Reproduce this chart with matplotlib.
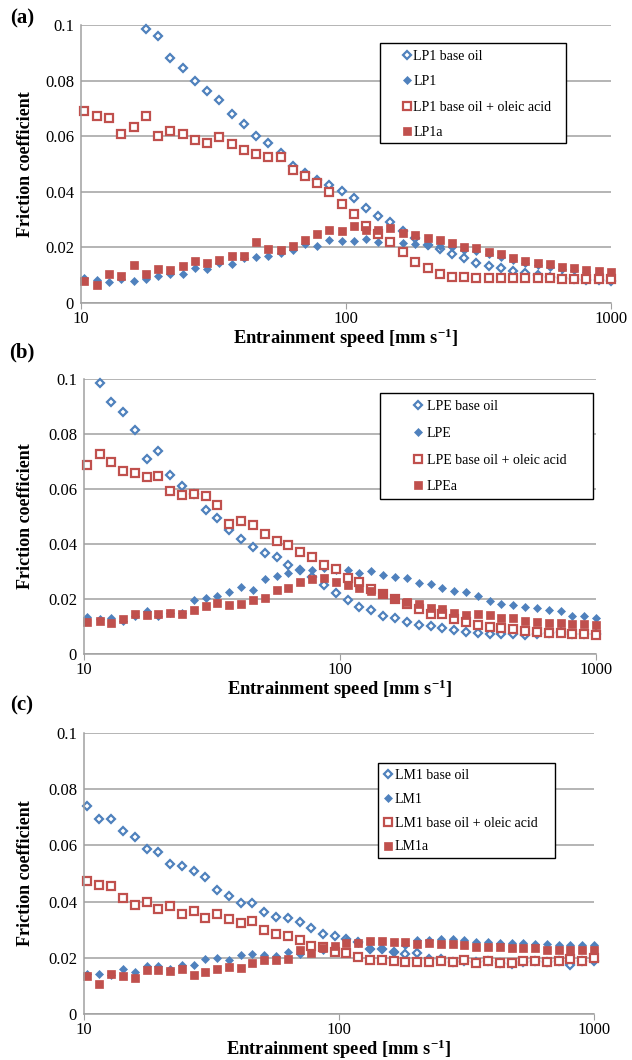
import matplotlib.pyplot as plt
from matplotlib.patches import Rectangle
from matplotlib.ticker import FixedLocator, FuncFormatter, NullLocator
import numpy as np

plt.rcParams['font.family'] = ['Liberation Serif', 'DejaVu Serif']
plt.rcParams['mathtext.default'] = 'regular'

nan = np.nan

# entrainment speed [mm/s], shared by all three test series
speed = [10.3, 11.5, 12.8, 14.2, 15.8, 17.6, 19.5, 21.7, 24.2, 26.9, 29.9,
         33.2, 37.0, 41.1, 45.7, 50.9, 56.6, 62.9, 70.0, 77.8, 86.6, 96.3,
         107, 119, 132, 147, 164, 182, 203, 226, 251, 279, 310, 345, 384,
         427, 475, 528, 587, 653, 727, 808, 899, 1000]

# (a) LP1
lp1_base = [nan, nan, nan, nan, nan, 0.0984, 0.0960, 0.0880, 0.0844, 0.0800,
            0.0764, 0.0731, 0.0679, 0.0643, 0.0599, 0.0577, 0.0539, 0.0491,
            0.0469, 0.0443, 0.0425, 0.0401, 0.0377, 0.0341, 0.0314, 0.0292,
            0.0257, 0.0233, 0.0209, 0.0193, 0.0175, 0.0161, 0.0143, 0.0133,
            0.0125, 0.0115, 0.0107, 0.0101, 0.0095, 0.0089, 0.0086, 0.0083,
            0.0082, 0.0079]
lp1 = [0.0090, 0.0084, 0.0074, 0.0086, 0.0080, 0.0086, 0.0096, 0.0105,
       0.0105, 0.0126, 0.0122, 0.0144, 0.0140, 0.0162, 0.0165, 0.0170,
       0.0180, 0.0192, 0.0212, 0.0206, 0.0225, 0.0224, 0.0224, 0.0229,
       0.0221, 0.0221, 0.0215, 0.0213, 0.0208, 0.0204, 0.0200, 0.0192,
       0.0188, 0.0176, 0.0166, 0.0155, 0.0144, 0.0135, 0.0131, 0.0123,
       0.0117, 0.0111, 0.0107, 0.0105]
lp1_oleic = [0.0689, 0.0674, 0.0665, 0.0608, 0.0632, 0.0671, 0.0599, 0.0619,
             0.0608, 0.0587, 0.0575, 0.0596, 0.0572, 0.0551, 0.0537, 0.0525,
             0.0525, 0.0479, 0.0457, 0.0431, 0.0398, 0.0355, 0.0319, 0.0278,
             0.0247, 0.0221, 0.0185, 0.0149, 0.0127, 0.0103, 0.0095, 0.0094,
             0.0090, 0.0089, 0.0089, 0.0089, 0.0088, 0.0088, 0.0088, 0.0087,
             0.0087, 0.0087, 0.0087, 0.0086]
lp1a = [0.0080, 0.0063, 0.0104, 0.0098, 0.0138, 0.0105, 0.0122, 0.0120,
        0.0132, 0.0150, 0.0144, 0.0156, 0.0170, 0.0170, 0.0219, 0.0195,
        0.0192, 0.0206, 0.0228, 0.0248, 0.0263, 0.0257, 0.0275, 0.0263,
        0.0263, 0.0269, 0.0251, 0.0245, 0.0233, 0.0227, 0.0215, 0.0203,
        0.0199, 0.0185, 0.0175, 0.0163, 0.0152, 0.0143, 0.0139, 0.0131,
        0.0125, 0.0119, 0.0115, 0.0113]

# (b) LPE
lpe_base = [nan, 0.0985, 0.0916, 0.0880, 0.0813, 0.0709, 0.0739, 0.0652,
            0.0610, 0.0583, 0.0522, 0.0495, 0.0450, 0.0418, 0.0388, 0.0367,
            0.0353, 0.0322, 0.0307, 0.0280, 0.0250, 0.0221, 0.0196, 0.0172,
            0.0160, 0.0139, 0.0132, 0.0118, 0.0105, 0.0103, 0.0096, 0.0087,
            0.0081, 0.0075, 0.0073, 0.0072, 0.0072, 0.0069, 0.0071, 0.0075,
            0.0079, 0.0074, 0.0074, 0.0073]
lpe = [0.0133, 0.0127, 0.0131, 0.0119, 0.0139, 0.0158, 0.0137, 0.0150,
       0.0148, 0.0198, 0.0204, 0.0212, 0.0225, 0.0244, 0.0234, 0.0274,
       0.0282, 0.0295, 0.0307, 0.0307, 0.0313, 0.0305, 0.0305, 0.0293,
       0.0302, 0.0287, 0.0279, 0.0275, 0.0257, 0.0255, 0.0239, 0.0230,
       0.0227, 0.0212, 0.0194, 0.0182, 0.0178, 0.0170, 0.0168, 0.0160,
       0.0156, 0.0139, 0.0139, 0.0132]
lpe_oleic = [0.0688, 0.0727, 0.0697, 0.0664, 0.0658, 0.0644, 0.0646, 0.0594,
             0.0579, 0.0583, 0.0573, 0.0541, 0.0474, 0.0485, 0.0468, 0.0436,
             0.0410, 0.0398, 0.0371, 0.0353, 0.0322, 0.0308, 0.0278, 0.0263,
             0.0236, 0.0220, 0.0201, 0.0183, 0.0162, 0.0147, 0.0144, 0.0128,
             0.0116, 0.0105, 0.0099, 0.0093, 0.0091, 0.0084, 0.0081, 0.0078,
             0.0078, 0.0072, 0.0072, 0.0069]
lpea = [0.0115, 0.0119, 0.0113, 0.0127, 0.0145, 0.0143, 0.0147, 0.0149,
        0.0145, 0.0161, 0.0176, 0.0185, 0.0179, 0.0182, 0.0195, 0.0204,
        0.0232, 0.0240, 0.0262, 0.0273, 0.0276, 0.0263, 0.0251, 0.0239,
        0.0229, 0.0217, 0.0202, 0.0190, 0.0181, 0.0169, 0.0164, 0.0148,
        0.0142, 0.0144, 0.0142, 0.0130, 0.0130, 0.0120, 0.0118, 0.0114,
        0.0111, 0.0109, 0.0109, 0.0105]

# (c) LM1
lm1_base = [0.0739, 0.0695, 0.0695, 0.0650, 0.0630, 0.0587, 0.0575, 0.0535,
            0.0528, 0.0508, 0.0486, 0.0440, 0.0421, 0.0395, 0.0395, 0.0363,
            0.0344, 0.0342, 0.0326, 0.0306, 0.0285, 0.0276, 0.0267, 0.0255,
            0.0230, 0.0230, 0.0222, 0.0212, 0.0216, 0.0195, 0.0194, 0.0186,
            0.0190, 0.0184, 0.0190, 0.0181, 0.0179, 0.0184, 0.0187, 0.0184,
            0.0187, 0.0176, 0.0187, 0.0190]
lm1 = [0.0142, 0.0142, 0.0138, 0.0160, 0.0149, 0.0170, 0.0170, 0.0160,
       0.0173, 0.0173, 0.0196, 0.0199, 0.0191, 0.0211, 0.0215, 0.0209,
       0.0205, 0.0219, 0.0215, 0.0235, 0.0229, 0.0236, 0.0262, 0.0253,
       0.0232, 0.0232, 0.0222, 0.0245, 0.0262, 0.0264, 0.0268, 0.0266,
       0.0264, 0.0257, 0.0255, 0.0254, 0.0252, 0.0254, 0.0248, 0.0249,
       0.0246, 0.0246, 0.0244, 0.0247]
lm1_oleic = [0.0474, 0.0458, 0.0457, 0.0413, 0.0389, 0.0399, 0.0375, 0.0383,
             0.0356, 0.0368, 0.0342, 0.0356, 0.0339, 0.0324, 0.0332, 0.0298,
             0.0285, 0.0276, 0.0262, 0.0241, 0.0237, 0.0222, 0.0216, 0.0202,
             0.0192, 0.0192, 0.0190, 0.0186, 0.0186, 0.0186, 0.0188, 0.0186,
             0.0192, 0.0183, 0.0190, 0.0180, 0.0180, 0.0190, 0.0190, 0.0186,
             0.0190, 0.0195, 0.0190, 0.0198]
lm1a = [0.0134, 0.0108, 0.0142, 0.0136, 0.0128, 0.0155, 0.0155, 0.0152,
        0.0160, 0.0138, 0.0149, 0.0160, 0.0167, 0.0164, 0.0181, 0.0193,
        0.0193, 0.0197, 0.0227, 0.0217, 0.0235, 0.0243, 0.0252, 0.0252,
        0.0261, 0.0261, 0.0257, 0.0257, 0.0249, 0.0252, 0.0249, 0.0249,
        0.0246, 0.0240, 0.0240, 0.0240, 0.0234, 0.0236, 0.0234, 0.0228,
        0.0228, 0.0228, 0.0228, 0.0229]

BLUE = '#4F81BD'
RED = '#C0504D'
GRID = '#A0A0A0'

# marker style for: base oil, additive, base oil + oleic acid, additive + oleic acid
STYLES = [dict(marker='D', ms=4.3, mec=BLUE, mfc='white', mew=1.6),
          dict(marker='D', ms=3.6, mec=BLUE, mfc=BLUE, mew=0.5),
          dict(marker='s', ms=5.6, mec=RED, mfc='white', mew=1.6),
          dict(marker='s', ms=6.0, mec=RED, mfc=RED, mew=0.5)]


def draw_panel(ax, series, labels, box, anchor, textpad, spacing, ylab_x):
    """plot the four friction curves of one lubricant"""
    for y, st in zip(series, STYLES):
        ax.plot(speed, y, linestyle='none', clip_on=False, **st)

    ax.set_xscale('log')
    ax.set_xlim(10, 1000)
    ax.set_ylim(0, 0.1)
    ax.xaxis.set_major_locator(FixedLocator([10, 100, 1000]))
    ax.xaxis.set_minor_locator(NullLocator())
    ax.xaxis.set_major_formatter(FuncFormatter(lambda v, p: '%d' % v))
    ax.yaxis.set_major_locator(FixedLocator(np.arange(0, 0.101, 0.02)))
    ax.yaxis.set_major_formatter(FuncFormatter(lambda v, p: '%g' % round(v, 3)))

    ax.set_axisbelow(True)
    ax.grid(axis='y', color=GRID, lw=1.1)
    for side in ['top', 'right']:
        ax.spines[side].set_visible(False)
    for side in ['left', 'bottom']:
        ax.spines[side].set_color(GRID)
        ax.spines[side].set_linewidth(1.1)
    ax.tick_params(axis='x', length=4, color=GRID, labelsize=12, pad=2)
    ax.tick_params(axis='y', length=0, labelsize=12, pad=5)

    ax.set_xlabel(r'Entrainment speed [mm s$^{-1}$]', fontsize=13.3,
                  fontweight='bold')
    ax.set_ylabel('Friction coefficient', fontsize=13, fontweight='bold')
    ax.xaxis.set_label_coords(0.5, -0.085)
    ax.yaxis.set_label_coords(ylab_x, 0.5)

    x0, y0, x1, y1 = box
    ax.add_patch(Rectangle((x0, y0), x1 - x0, y1 - y0, transform=ax.transAxes,
                           facecolor='white', edgecolor='black', lw=1.0,
                           zorder=4, clip_on=False))
    handles = ax.get_lines()
    leg = ax.legend(handles, labels, loc='upper left', bbox_to_anchor=anchor,
                    frameon=False, borderpad=0, borderaxespad=0,
                    handlelength=0.8, handletextpad=textpad,
                    labelspacing=spacing, numpoints=1, fontsize=10)
    leg.set_zorder(5)


fig = plt.figure(figsize=(6.32, 10.6), dpi=100)

ax_a = fig.add_axes([0.1282, 0.7142, 0.8386, 0.2623])
draw_panel(ax_a, [lp1_base, lp1, lp1_oleic, lp1a],
           ['LP1 base oil', 'LP1', 'LP1 base oil + oleic acid', 'LP1a'],
           (0.564, 0.576, 0.915, 0.935), (0.6046, 0.910), 0.05, 0.89, -0.0887)

ax_b = fig.add_axes([0.1329, 0.3830, 0.8101, 0.2594])
draw_panel(ax_b, [lpe_base, lpe, lpe_oleic, lpea],
           ['LPE base oil', 'LPE', 'LPE base oil + oleic acid', 'LPEa'],
           (0.578, 0.564, 0.994, 0.949), (0.6414, 0.9236), 0.25, 0.99, -0.0977)

ax_c = fig.add_axes([0.1329, 0.0434, 0.8070, 0.2651])
draw_panel(ax_c, [lm1_base, lm1, lm1_oleic, lm1a],
           ['LM1 base oil', 'LM1', 'LM1 base oil + oleic acid', 'LM1a'],
           (0.576, 0.555, 0.924, 0.893), (0.5851, 0.872), 0.1, 0.78, -0.098)

for lab, ypix in [('(a)', 18), ('(b)', 352), ('(c)', 705)]:
    fig.text(22 / 632, 1 - ypix / 1060, lab, fontsize=15, fontweight='bold',
             ha='center', va='center')

fig.savefig('out.png', dpi=100)
